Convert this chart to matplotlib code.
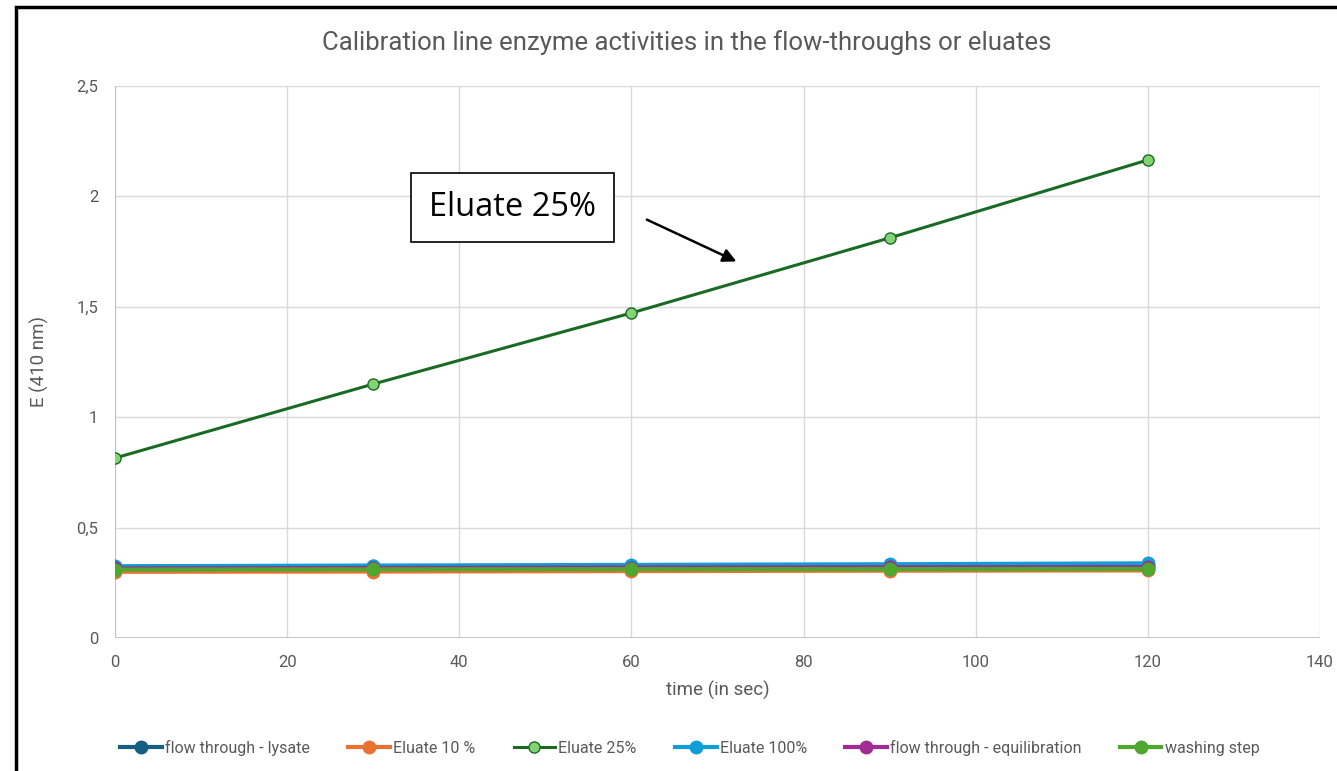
### ------------------------------ Imports ------------------------------ ###

import matplotlib
matplotlib.use("Agg")
import matplotlib.pyplot as plt
from matplotlib.ticker import FuncFormatter, MultipleLocator
from matplotlib.patches import Rectangle

plt.rcParams['font.family'] = ['Roboto', 'DejaVu Sans']

### ------------------------------ Data ------------------------------ ###

time_sec = [0, 30, 60, 90, 120]

ft_lysate = [0.322, 0.325, 0.326, 0.327, 0.328]
eluate_10 = [0.300, 0.301, 0.303, 0.305, 0.306]
eluate_25 = [0.815, 1.150, 1.472, 1.812, 2.165]
eluate_100 = [0.325, 0.328, 0.331, 0.334, 0.338]
ft_equil = [0.315, 0.317, 0.319, 0.320, 0.321]
washing = [0.310, 0.311, 0.312, 0.312, 0.313]

series_names = ["flow through - lysate", "Eluate 10 %", "Eluate 25%",
                "Eluate 100%", "flow through - equilibration", "washing step"]
series_values = [ft_lysate, eluate_10, eluate_25, eluate_100, ft_equil, washing]
series_colors = ["#156082", "#E97132", "#196B24", "#0F9ED5", "#A02B93", "#4EA72E"]

### ------------------------------ Figure ------------------------------ ###

fig = plt.figure(figsize=(13.37, 7.71), dpi=100)
ax = fig.add_axes([0.086, 0.1725, 0.9013, 0.716])

for name, vals, col in zip(series_names, series_values, series_colors):
    if name == "Eluate 25%":
        ax.plot(time_sec, vals, color=col, lw=2.2, marker='o', ms=8,
                markerfacecolor="#83D373", markeredgecolor=col, markeredgewidth=1.0,
                label=name, zorder=4)
    else:
        ax.plot(time_sec, vals, color=col, lw=3, marker='o', ms=9,
                markerfacecolor=col, markeredgecolor=col, label=name, zorder=3)

ax.set_xlim(0, 140)
ax.set_ylim(0, 2.5)
ax.xaxis.set_major_locator(MultipleLocator(20))
ax.yaxis.set_major_locator(MultipleLocator(0.5))
ax.yaxis.set_major_formatter(FuncFormatter(lambda v, p: f"{v:g}".replace('.', ',')))

ax.grid(True, color="#D9D9D9", lw=1)
ax.set_axisbelow(True)
for s in ax.spines.values():
    s.set_visible(False)
ax.axvline(0, color="#BFBFBF", lw=1.2, zorder=1)
ax.axhline(0, color="#BFBFBF", lw=1.2, zorder=1)
ax.tick_params(length=0, labelsize=12, colors="#595959", pad=12)

ax.set_xlabel("time (in sec)", fontsize=13.5, color="#595959", labelpad=8)
ax.set_ylabel("E (410 nm)", fontsize=13.5, color="#595959", labelpad=20)
fig.text(0.514, 0.945, "Calibration line enzyme activities in the flow-throughs or eluates",
         ha='center', va='center', fontsize=18.5, color="#595959")

# annotation box with arrow
ax.annotate("", xy=(72.5, 1.7), xytext=(61.5, 1.9),
            arrowprops=dict(arrowstyle='-|>', color='black', lw=1.8, mutation_scale=20))
ax.text(46.2, 1.948, "Eluate 25%", fontsize=23.5, family=['Open Sans', 'DejaVu Sans'],
        ha='center', va='center', zorder=6,
        bbox=dict(boxstyle='square,pad=0.55', fc='white', ec='black', lw=1.2))

fig.legend(loc='center', bbox_to_anchor=(0.516, 0.03), ncol=6, frameon=False,
           fontsize=11.5, labelcolor="#595959", handlelength=2.6, columnspacing=2.4,
           handletextpad=0.2)

# outer black frame (cropped at right/bottom)
fig.patches.append(Rectangle((16 / 1337, -0.1), 1.2, 1 - 7 / 771 + 0.1,
                             transform=fig.transFigure, fill=False,
                             ec='black', lw=2.5))

fig.savefig("out.png", dpi=100)
